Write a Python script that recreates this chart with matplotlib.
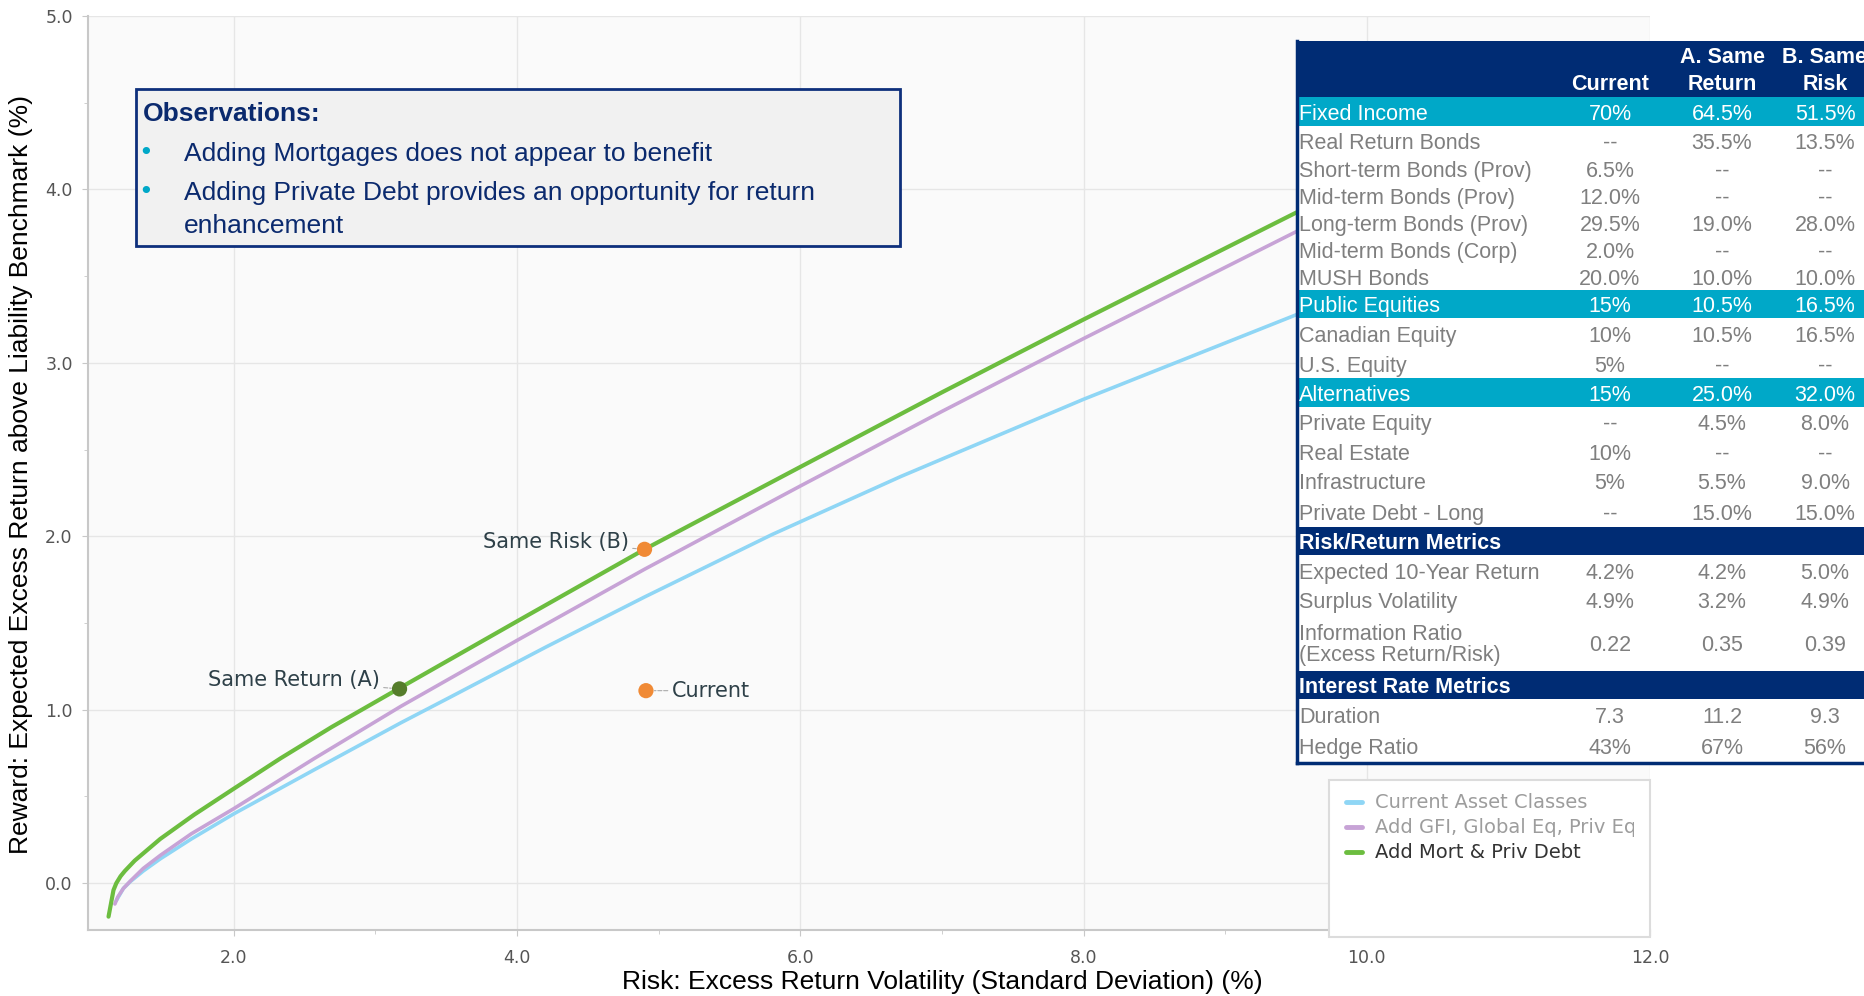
import numpy as np
import matplotlib
matplotlib.use("Agg")
import matplotlib.pyplot as plt
from matplotlib.patches import Rectangle
from matplotlib.transforms import Bbox, TransformedBbox

# efficient frontiers: risk (x) vs excess return (y)
cur_x = [1.17, 1.22, 1.27, 1.36, 1.48, 1.7, 2.0, 2.57, 3.18, 3.51, 4.2, 4.9, 5.8, 6.71, 8.0, 9.51, 10.5]
cur_y = [-0.10, -0.03, 0.01, 0.07, 0.14, 0.255, 0.40, 0.655, 0.925, 1.065, 1.36, 1.65, 2.01, 2.345, 2.79, 3.28, 3.6]

gfi_x = [1.16, 1.18, 1.22, 1.27, 1.36, 1.48, 1.7, 2.0, 2.57, 3.18, 4.0, 4.9, 6.0, 7.0, 8.0, 9.51, 10.5]
gfi_y = [-0.12, -0.08, -0.03, 0.013, 0.085, 0.16, 0.285, 0.43, 0.72, 1.02, 1.40, 1.81, 2.29, 2.72, 3.14, 3.76, 4.16]

mort_x = [1.115, 1.15, 1.17, 1.20, 1.23, 1.30, 1.48, 1.72, 2.0, 2.33, 2.69, 3.16, 4.0, 4.9, 6.0, 7.0, 8.0, 9.51, 10.5]
mort_y = [-0.193, -0.04, 0.0, 0.04, 0.07, 0.13, 0.255, 0.395, 0.545, 0.72, 0.90, 1.12, 1.51, 1.925, 2.40, 2.83, 3.25, 3.87, 4.27]

series_names = ["Current Asset Classes", "Add GFI, Global Eq, Priv Eq", "Add Mort & Priv Debt"]
series_colors = ["#8fd6f5", "#c7a3d6", "#6cbd3f"]

# portfolios
pt_names = ["Current", "Same Return (A)", "Same Risk (B)"]
pt_risk = [4.91, 3.17, 4.9]
pt_ret = [1.11, 1.12, 1.925]
pt_colors = ["#f08a35", "#557d2b", "#f08a35"]

# allocation table
tbl_cols = [["Current"], ["A. Same", "Return"], ["B. Same", "Risk"]]
tbl_labels = ["Fixed Income", "Real Return Bonds", "Short-term Bonds (Prov)", "Mid-term Bonds (Prov)",
              "Long-term Bonds (Prov)", "Mid-term Bonds (Corp)", "MUSH Bonds", "Public Equities",
              "Canadian Equity", "U.S. Equity", "Alternatives", "Private Equity", "Real Estate",
              "Infrastructure", "Private Debt - Long", "Risk/Return Metrics", "Expected 10-Year Return",
              "Surplus Volatility", "Information Ratio\n(Excess Return/Risk)", "Interest Rate Metrics",
              "Duration", "Hedge Ratio"]
tbl_kind = ["grp", "row", "row", "row", "row", "row", "row", "grp", "row", "row", "grp", "row", "row",
            "row", "row", "head", "row", "row", "row", "head", "row", "row"]
tbl_current = ["70%", "--", "6.5%", "12.0%", "29.5%", "2.0%", "20.0%", "15%", "10%", "5%", "15%", "--",
               "10%", "5%", "--", "", "4.2%", "4.9%", "0.22", "", "7.3", "43%"]
tbl_a = ["64.5%", "35.5%", "--", "--", "19.0%", "--", "10.0%", "10.5%", "10.5%", "--", "25.0%", "4.5%",
         "--", "5.5%", "15.0%", "", "4.2%", "3.2%", "0.35", "", "11.2", "67%"]
tbl_b = ["51.5%", "13.5%", "--", "--", "28.0%", "--", "10.0%", "16.5%", "16.5%", "--", "32.0%", "8.0%",
         "--", "9.0%", "15.0%", "", "5.0%", "4.9%", "0.39", "", "9.3", "56%"]

obs_title = "Observations:"
obs_points = ["Adding Mortgages does not appear to benefit",
              "Adding Private Debt provides an opportunity for return\nenhancement"]

NAVY = "#002c74"
CYAN = "#00a8c8"
W, H = 1864, 996

fig = plt.figure(figsize=(W / 100, H / 100), dpi=100)
ax = fig.add_axes([88 / W, (H - 930) / H, (1650 - 88) / W, (930 - 16) / H])
ax.set_facecolor("#fafafa")

for xs, ys, c, lw in zip([cur_x, gfi_x, mort_x], [cur_y, gfi_y, mort_y], series_colors, [2.6, 2.6, 3.0]):
    ax.plot(xs, ys, color=c, lw=lw, solid_capstyle="round", solid_joinstyle="round", zorder=3)

ax.scatter(pt_risk, pt_ret, s=120, c=pt_colors, zorder=5, edgecolors="none")
offsets = [(26, 0), (-20, 9), (-16, 7)]
aligns = ["left", "right", "right"]
for name, x, y, off, ha in zip(pt_names, pt_risk, pt_ret, offsets, aligns):
    ax.annotate(name, (x, y), xytext=off, textcoords="offset pixels", ha=ha, va="center",
                fontsize=15, color="#2e4048", family="DejaVu Sans",
                arrowprops=dict(arrowstyle="-", color="#aaaaaa", lw=0.8, ls="--", shrinkA=1, shrinkB=6))

ax.set_xlim(0.97, 12.0)
ax.set_ylim(-0.27, 5.0)
ax.set_xticks([2, 4, 6, 8, 10, 12])
ax.set_yticks([0, 1, 2, 3, 4, 5])
ax.set_xticks([3, 5, 7, 9, 11], minor=True)
ax.set_yticks(np.arange(0.5, 5, 1.0), minor=True)
ax.xaxis.set_major_formatter(matplotlib.ticker.FormatStrFormatter("%.1f"))
ax.yaxis.set_major_formatter(matplotlib.ticker.FormatStrFormatter("%.1f"))
ax.grid(True, which="major", color="#e6e6e6", lw=1)
ax.set_axisbelow(True)
for lab in ax.get_xticklabels() + ax.get_yticklabels():
    lab.set_family("DejaVu Sans")
ax.tick_params(which="both", colors="#c8c8c8", labelcolor="#555555", labelsize=12.5)
ax.tick_params(which="major", length=4)
ax.tick_params(which="minor", length=3)
ax.tick_params(axis="x", pad=10)
ax.tick_params(axis="y", pad=7)
for s in ["top", "right"]:
    ax.spines[s].set_visible(False)
for s in ["left", "bottom"]:
    ax.spines[s].set_color("#c8c8c8")
    ax.spines[s].set_linewidth(1.5)

# overlay in pixel coordinates for the boxes and the table
ov = fig.add_axes([0, 0, 1, 1], zorder=10)
ov.set_xlim(0, W)
ov.set_ylim(H, 0)
ov.axis("off")

ov.text(942, 982, "Risk: Excess Return Volatility (Standard Deviation) (%)", ha="center", va="center",
        fontsize=19, family="Liberation Sans", color="black")
ov.text(21, 474, "Reward: Expected Excess Return above Liability Benchmark (%)", ha="center", va="center",
        rotation=90, fontsize=19, family="Liberation Sans", color="black")

# observations box
ov.add_patch(Rectangle((136, 89), 764, 157, facecolor="#f1f1f1", edgecolor="#0e2f7c", lw=2))
ov.text(143, 114, obs_title, fontsize=19, fontweight="bold", color="#0b2a6e", family="Liberation Sans",
        va="center")
yy = 154
for txt in obs_points:
    ov.text(146, yy - 1, "\u2022", fontsize=18, color=CYAN, va="center", ha="center", family="DejaVu Sans")
    for line in txt.split("\n"):
        ov.text(184, yy, line, fontsize=19, color="#0b2a6e", family="Liberation Sans", va="center")
        yy += 33
    yy += 6

# legend
ov.add_patch(Rectangle((1329, 780), 321, 157, facecolor="white", edgecolor="#dcdcdc", lw=1.5))
clip = TransformedBbox(Bbox([[1329, 780], [1634, 937]]), ov.transData)
for i, (name, c) in enumerate(zip(series_names, series_colors)):
    yy = 802 + 25 * i
    ov.plot([1346, 1362], [yy, yy], color=c, lw=3.5, solid_capstyle="round")
    t = ov.text(1375, yy, name, fontsize=14, family="DejaVu Sans", va="center",
                color="#333333" if i == 2 else "#9d9d9d")
    t.set_clip_box(clip)
    t.set_clip_on(True)

# table
edges = [97, 126, 155, 182, 209, 236, 263, 290, 318, 349, 378, 407, 437, 466, 496, 527, 555, 586, 614,
         671, 699, 730, 762]
tx0 = 1297
col_x = [1610, 1722, 1825]
ov.add_patch(Rectangle((tx0, 41), W - tx0, 762 - 41, facecolor="white", edgecolor="none"))
ov.add_patch(Rectangle((tx0, 41), W - tx0, 97 - 41, facecolor=NAVY, edgecolor="none"))
for cx, hdr in zip(col_x, tbl_cols):
    if len(hdr) == 2:
        ov.text(cx, 57, hdr[0], ha="center", va="center", color="white", fontsize=15.5,
                fontweight="bold", family="Liberation Sans")
    ov.text(cx, 84, hdr[-1], ha="center", va="center", color="white", fontsize=15.5,
            fontweight="bold", family="Liberation Sans")

for i, lab in enumerate(tbl_labels):
    top, bot = edges[i], edges[i + 1]
    yc = (top + bot) / 2 + 2.5
    kind = tbl_kind[i]
    if kind == "grp":
        ov.add_patch(Rectangle((tx0, top), W - tx0, bot - top, facecolor=CYAN, edgecolor="none"))
        fc, fw = "white", "normal"
    elif kind == "head":
        ov.add_patch(Rectangle((tx0, top), W - tx0, bot - top, facecolor=NAVY, edgecolor="none"))
        fc, fw = "white", "bold"
    else:
        fc, fw = "#7f7f7f", "normal"
    ov.text(tx0 + 2, yc, lab, ha="left", va="center", color=fc, fontsize=15.5, fontweight=fw,
            family="Liberation Sans", linespacing=1.05)
    for cx, v in zip(col_x, [tbl_current[i], tbl_a[i], tbl_b[i]]):
        if v:
            ov.text(cx, yc, v, ha="center", va="center", color=fc, fontsize=15.5,
                    family="Liberation Sans")

ov.plot([tx0, tx0], [41, 763], color=NAVY, lw=2.5)
ov.plot([tx0, W], [763, 763], color=NAVY, lw=2.5)

fig.savefig("out.png", dpi=100, facecolor="white")
